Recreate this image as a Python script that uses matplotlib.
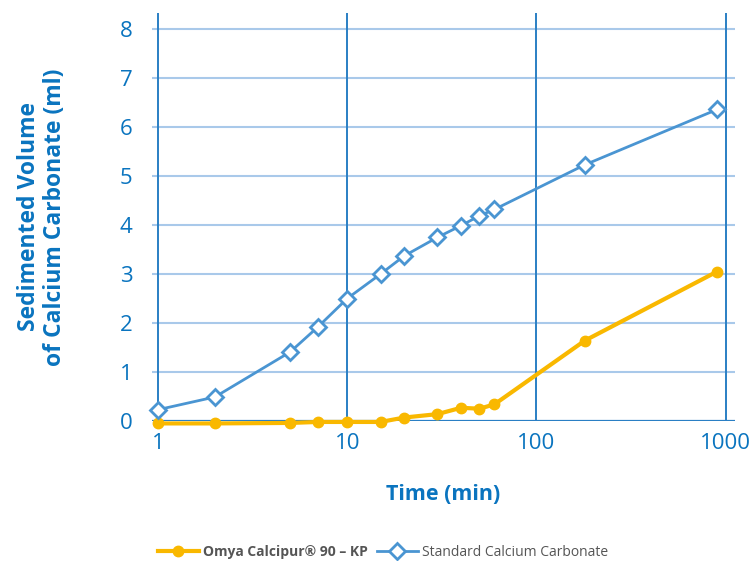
import matplotlib
matplotlib.use('Agg')
import matplotlib.pyplot as plt
from matplotlib.ticker import FixedLocator, NullLocator

plt.rcParams['font.family'] = ['Open Sans', 'DejaVu Sans']

# 時間 (min)
time_min = [1, 2, 5, 7, 10, 15, 20, 30, 40, 50, 60, 180, 900]
# 沈降体積 (ml)
omya_vol = [-0.05, -0.05, -0.04, -0.02, -0.02, -0.02, 0.07, 0.14, 0.27, 0.25, 0.34, 1.64, 3.05]
standard_vol = [0.23, 0.49, 1.41, 1.92, 2.50, 3.00, 3.37, 3.75, 3.99, 4.19, 4.32, 5.23, 6.36]

x_ticks = [1, 10, 100, 1000]
y_ticks = [0, 1, 2, 3, 4, 5, 6, 7, 8]

label_blue = '#0a74bf'
line_blue = '#4a95d2'
orange = '#f9b800'

fig = plt.figure(figsize=(7.51, 5.61), dpi=100)
ax = fig.add_axes([0.2024, 0.2496, 0.7763, 0.7272])

ax.set_xscale('log')
ax.set_xlim(0.93, 1120)
ax.set_ylim(0, 8.33)

# グリッド
for y in y_ticks[1:]:
    ax.axhline(y, color='#a9c9ea', lw=1.5, zorder=1)
for x in x_ticks:
    ax.axvline(x, color='#2a7fc4', lw=1.4, zorder=1)
ax.axhline(0, color='#2a7fc4', lw=1.6, zorder=1)

ax.plot(time_min, omya_vol, color=orange, lw=3, marker='o', ms=7.5,
        mfc=orange, mec=orange, zorder=3, clip_on=False,
        label='Omya Calcipur® 90 – KP')
ax.plot(time_min, standard_vol, color=line_blue, lw=2, marker='D', ms=7.8,
        mfc='white', mec=line_blue, mew=2, zorder=4, clip_on=False,
        label='Standard Calcium Carbonate')

for s in ax.spines.values():
    s.set_visible(False)

ax.xaxis.set_major_locator(FixedLocator(x_ticks))
ax.xaxis.set_minor_locator(NullLocator())
ax.set_xticklabels([str(v) for v in x_ticks])
ax.set_yticks(y_ticks)
ax.tick_params(axis='both', length=0, labelsize=16, labelcolor=label_blue)
ax.tick_params(axis='x', pad=9)
ax.tick_params(axis='y', pad=14)

ax.set_xlabel('Time (min)', fontsize=15.5, fontweight='bold', color=label_blue, labelpad=21)
ax.set_ylabel('Sedimented Volume\nof Calcium Carbonate (ml)', fontsize=16.5,
              fontweight='bold', color=label_blue, labelpad=38, linespacing=1.1)

leg = fig.legend(loc='center', bbox_to_anchor=(0.51, 0.016), ncol=2, frameon=False,
                 fontsize=10, handlelength=3.0, handletextpad=0.3, columnspacing=0.6,
                 markerscale=1.0)
for t in leg.get_texts():
    t.set_color('#555555')
leg.get_texts()[0].set_fontweight('bold')

fig.savefig('out.png', dpi=100)
